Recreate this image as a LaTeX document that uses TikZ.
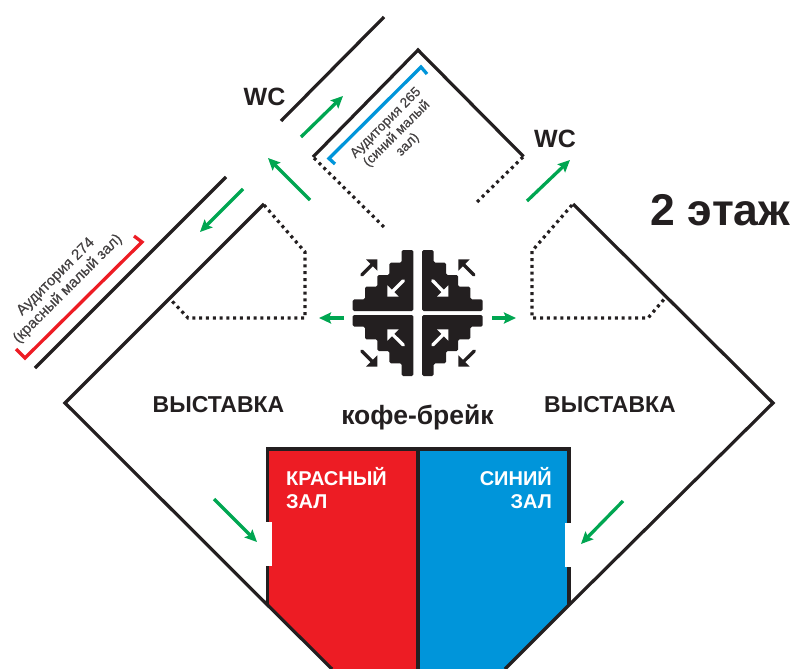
\documentclass[tikz,border=0pt]{standalone}
\usepackage{fontspec}
\setmainfont{Liberation Sans}
\newfontfamily\semibold[FakeBold=0.35]{Liberation Sans}
\usetikzlibrary{arrows.meta}
\definecolor{ink}{HTML}{231F20}
\definecolor{hallred}{HTML}{ED1C24}
\definecolor{hallblue}{HTML}{0095DA}
\definecolor{way}{HTML}{00A651}
\tikzset{
  wall/.style={draw=ink,line width=3.2pt,line cap=butt,line join=miter},
  dots/.style={draw=ink,line width=3.2pt,dash pattern=on 3pt off 3.8pt},
  way arrow/.style={draw=way,line width=3.3pt,-{Stealth[length=12pt,width=11pt,inset=2pt]}},
  bracket/.style={line width=3.3pt,line join=miter},
  label/.style={font=\bfseries\fontsize{23}{26}\selectfont,text=ink,inner sep=0pt},
  hall label/.style={font=\bfseries\fontsize{20}{23}\selectfont,text=white,inner sep=0pt},
  room label/.style={text=ink!85,align=center,inner sep=0pt,rotate=45},
}
\begin{document}
\begin{tikzpicture}[x=1pt,y=-1pt]
\useasboundingbox (0,0) rectangle (790,669);
\clip (0,0) rectangle (790,669);
% halls
\path[fill=hallred] (267.5,449) -- (418,449) -- (418,669) -- (331,669) -- (267.5,605) -- cycle;
\path[fill=hallblue] (418,449) -- (569,449) -- (569,605) -- (505,669) -- (418,669) -- cycle;
\draw[wall,line width=3.6pt] (267.5,605) -- (267.5,449) -- (569,449) -- (569,605);
\draw[wall,line width=3.6pt] (418,449) -- (418,669);
\fill[white] (265,522) rectangle (272,566);
\fill[white] (565,523) rectangle (572,567);
% outer walls
\draw[wall] (264,204) -- (65,403) -- (267.5,605) -- (332,669);
\draw[wall] (573,204) -- (773,403) -- (569,605) -- (505,669);
\draw[wall] (226,177) -- (35,368);
\draw[wall] (384,17) -- (281,121);
\draw[wall] (313,157) -- (418,50) -- (523.5,156.5);
% dotted partitions
\draw[dots] (314,158) -- (386,229);
\draw[dots] (523,157) -- (477,202);
\draw[dots] (264,205) -- (305,252) -- (305,318) -- (188,318) -- (171,300);
\draw[dots] (572,205) -- (532,251) -- (532,318) -- (648,318) -- (666,297);
% brackets
\draw[bracket,hallblue] (335,164) -- (329,158.5) -- (421,67) -- (427,74);
\draw[bracket,hallred] (16,349) -- (25,358) -- (142,242) -- (134,236);
% green arrows
\draw[way arrow] (301,137) -- (343,96);
\draw[way arrow] (310,200) -- (268,158);
\draw[way arrow] (243,189) -- (200,232);
\draw[way arrow] (527,201) -- (570,160);
\draw[way arrow] (344,318) -- (319,318);
\draw[way arrow] (492,318) -- (516,318);
\draw[way arrow] (214,499) -- (257,542);
\draw[way arrow] (623,501) -- (581,544);
% central stair icon (coordinates in thirds of a pixel)
\begin{scope}[shift={(340,240)},x=0.33333pt,y=-0.33333pt]
\foreach \mx/\my in {1/1,-1/1,1/-1,-1/-1}{
  \begin{scope}[shift={(233,219)},xscale=\mx,yscale=\my]
    \fill[ink,rounded corners=1.5pt] (-195,-6) -- (-195,-41) -- (-158,-41) -- (-158,-79) -- (-121,-79) -- (-121,-114) -- (-85,-114) -- (-85,-151) -- (-48,-151) -- (-48,-189) -- (-13,-189) -- (-13,-6) -- cycle;
  \end{scope}
}
\foreach \col/\ax/\ay/\tx/\ty/\sx/\sy in {
  white/190/122/142/170/1/-1, white/278/122/325/170/-1/-1,
  white/190/315/142/268/1/1,  white/278/315/325/268/-1/1,
  ink/65/105/112/58/-1/1,     ink/402/105/355/58/1/1,
  ink/65/333/112/380/-1/-1,   ink/403/333/355/380/1/-1}{
  \draw[\col,line width=3.3pt,line cap=round] (\ax,\ay) -- (\tx+\sx*8,\ty+\sy*8);
  \fill[\col] (\tx,\ty) -- (\tx+\sx*34,\ty) -- (\tx,\ty+\sy*34) -- cycle;
}
\end{scope}
% texts
\node[label,font=\bfseries\fontsize{25}{27}\selectfont] (wcleft) at (264.5,97) {WC};
\node[label,font=\bfseries\fontsize{25}{27}\selectfont] (wcright) at (555,139) {WC};
\node[label,font=\bfseries\fontsize{44.5}{48}\selectfont] (floor) at (720.5,210) {2 этаж};
\node[label] (expoleft) at (218.5,405) {ВЫСТАВКА};
\node[label] (exporight) at (610,405) {ВЫСТАВКА};
\node[label,font=\bfseries\fontsize{26.5}{29}\selectfont] (coffee) at (417.5,417) {кофе-брейк};
\node[hall label,align=left,anchor=north west] (redhall) at (286,467) {КРАСНЫЙ\\ЗАЛ};
\node[hall label,align=right,anchor=north east] (bluehall) at (552,467) {СИНИЙ\\ЗАЛ};
\node[room label,font=\semibold\fontsize{13.6}{15.5}\selectfont] (aud265) at (397,134) {Аудитория 265\\(синий малый\\зал)};
\node[room label,font=\semibold\fontsize{15}{17}\selectfont] (aud274) at (62,283) {Аудитория 274\\(красный малый зал)};
\end{tikzpicture}
\end{document}
